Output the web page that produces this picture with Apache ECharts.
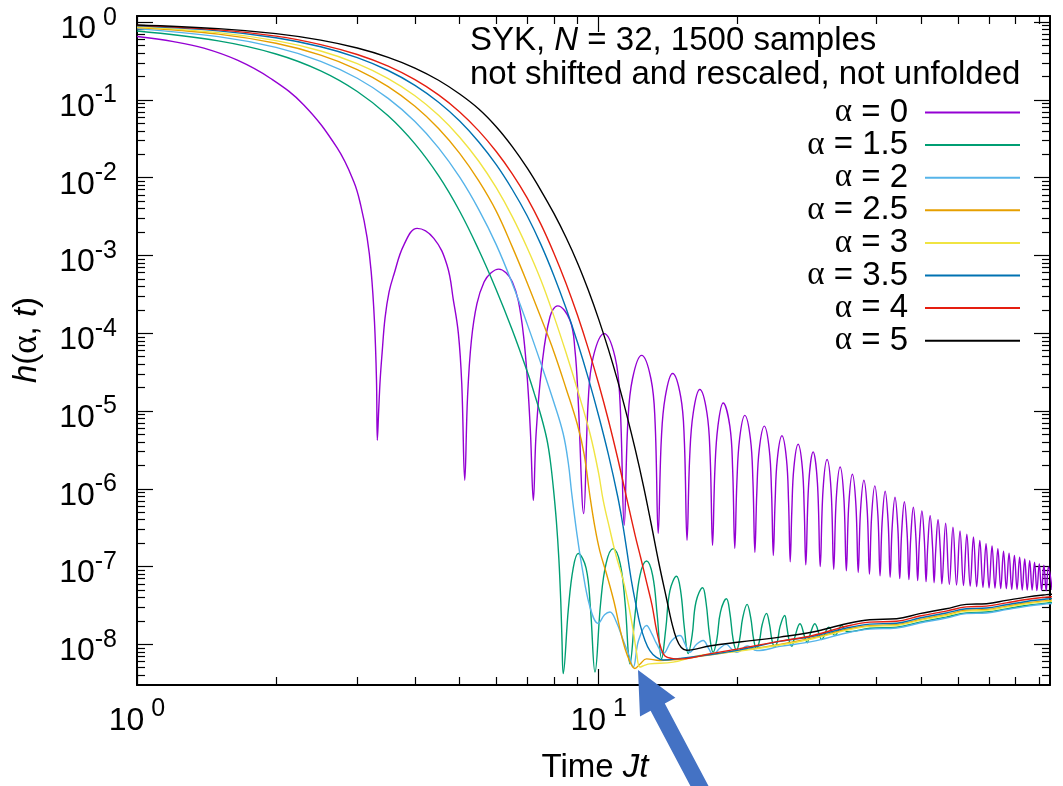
<!DOCTYPE html>
<html>
<head>
<meta charset="utf-8">
<script src="https://cdn.jsdelivr.net/npm/echarts@6/dist/echarts.min.js"></script>
<style>
  html, body { margin: 0; padding: 0; background: #ffffff; }
  #chart { width: 1063px; height: 786px; }
</style>
</head>
<body>
<div id="chart"></div>
<script>
// Axis ranges (log-log plot)
const X_MIN = 1, X_MAX = 95;
const Y_MIN = 3e-9, Y_MAX = 1.2;

// Tick positions
const xMajorTicks = [1, 10];
const yMajorTicks = [1e-8, 1e-7, 1e-6, 1e-5, 1e-4, 1e-3, 1e-2, 1e-1, 1];
const minorMantissas = [2, 3, 4, 5, 6, 7, 8, 9];

// Series names and colours
const alphaNames = ['α = 0', 'α = 1.5', 'α = 2', 'α = 2.5', 'α = 3', 'α = 3.5', 'α = 4', 'α = 5'];
const alphaColors = ['#9400d3', '#009e73', '#56b4e9', '#e69f00', '#f0e442', '#0072b2', '#e51e10', '#000000'];

// h(alpha, t) samples as [Jt, h]
const hAlpha0 = [
  [1, 0.653], [1.2, 0.562], [1.396, 0.463], [1.65, 0.324], [1.944, 0.190], [2.298, 0.0862], [2.714, 0.0241],
  [2.949, 0.00888], [3.051, 0.00447], [3.151, 0.0017], [3.215, 6.3e-4], [3.269, 1.41e-4], [3.302, 2.5e-5],
  [3.316, 4.2e-6], [3.338, 1e-5], [3.363, 2.5e-5], [3.396, 5.6e-5], [3.446, 1.58e-4], [3.516, 3.4e-4],
  [3.599, 5.6e-4], [3.784, 1.36e-3], [4.044, 2.23e-3], [4.395, 1.66e-3], [4.695, 7.5e-4], [4.845, 2.67e-4],
  [4.968, 9.9e-5], [5.052, 2.26e-5], [5.128, 1.29e-6], [5.2, 1.5e-5], [5.3, 8e-5], [5.45, 2.4e-4],
  [5.65, 4.6e-4], [5.85, 6.0e-4], [6.075, 6.68e-4], [6.3, 6.0e-4], [6.5, 4.6e-4], [6.7, 2.6e-4],
  [6.88, 9e-5], [7.02, 2.2e-5], [7.12, 5e-6], [7.22, 7.1e-7], [7.32, 5.1e-6], [7.53, 3.7e-5], [7.846, 1.63e-4],
  [8.15, 2.25e-4], [8.667, 1.47e-4], [8.886, 6.06e-5], [9.03, 1.38e-5], [9.28, 4.8e-7], [9.495, 1.38e-5],
  [9.735, 4.97e-5], [10.28, 9.9e-5], [10.85, 4.97e-5], [11.12, 1.38e-5], [11.36, 3.4e-7],
  [11.57, 7.3e-6], [11.84, 2.6e-5], [12.39, 5.2e-5], [12.98, 2.6e-5], [13.25, 7.3e-6], [13.46, 2.67e-7],
  [13.67, 4.3e-6], [13.94, 1.52e-5], [14.46, 3.04e-5], [15.06, 1.52e-5], [15.33, 4.3e-6], [15.54, 2.17e-7],
  [15.75, 2.6e-6], [16.03, 9.5e-6], [16.56, 1.89e-5], [17.16, 9.5e-6], [17.44, 2.6e-6], [17.65, 1.87e-7],
  [17.86, 1.8e-6], [18.13, 6.4e-6], [18.61, 1.27e-5], [19.24, 6.4e-6], [19.51, 1.8e-6], [19.72, 1.71e-7],
  [19.93, 1.23e-6], [20.2, 4.4e-6], [20.73, 8.8e-6], [21.32, 4.4e-6], [21.59, 1.23e-6], [21.8, 1.52e-7],
  [22.01, 9e-7], [22.28, 3.2e-6], [22.85, 6.4e-6], [23.42, 3.2e-6], [23.69, 9e-7], [23.9, 1.39e-7],
  [24.11, 6.7e-7], [24.38, 2.4e-6], [24.95, 4.8e-6], [25.52, 2.4e-6], [25.79, 6.7e-7], [26.0, 1.15e-7],
  [26.21, 5.2e-7], [26.48, 1.87e-6], [27.05, 3.74e-6], [27.62, 1.87e-6], [27.89, 5.2e-7], [28.1, 1.05e-7],
  [28.52, 1.19e-6], [29.15, 2.98e-6], [29.78, 1.19e-6], [30.2, 1.0e-7],
  [30.62, 9.5e-7], [31.25, 2.38e-6], [31.88, 9.5e-7], [32.3, 9.2e-8],
  [32.72, 7.6e-7], [33.35, 1.91e-6], [33.98, 7.6e-7], [34.4, 8.8e-8],
  [34.82, 6.2e-7], [35.45, 1.54e-6], [36.08, 6.2e-7], [36.5, 8.4e-8],
  [36.92, 5.2e-7], [37.55, 1.29e-6], [38.18, 5.2e-7], [38.6, 8.0e-8],
  [39.02, 4.4e-7], [39.65, 1.09e-6], [40.28, 4.4e-7], [40.7, 7.6e-8],
  [41.12, 3.7e-7], [41.75, 9.3e-7], [42.38, 3.7e-7], [42.8, 7.3e-8],
  [43.22, 3.1e-7], [43.85, 7.8e-7], [44.48, 3.1e-7], [44.9, 7.0e-8],
  [45.32, 2.7e-7], [45.95, 6.8e-7], [46.58, 2.7e-7], [47.0, 6.8e-8],
  [47.42, 2.3e-7], [48.05, 5.8e-7], [48.68, 2.3e-7], [49.1, 6.6e-8],
  [49.52, 2.1e-7], [50.15, 5.2e-7], [50.78, 2.1e-7], [51.2, 6.4e-8],
  [51.62, 1.8e-7], [52.25, 4.5e-7], [52.88, 1.8e-7], [53.3, 6.2e-8],
  [53.72, 1.6e-7], [54.35, 4.0e-7], [54.98, 1.6e-7], [55.4, 6.0e-8],
  [56.45, 3.6e-7], [57.5, 5.9e-8], [58.55, 3.2e-7], [59.6, 5.8e-8], [60.65, 2.86e-7], [61.7, 5.7e-8],
  [62.75, 2.6e-7], [63.8, 5.6e-8], [64.85, 2.4e-7], [65.9, 5.5e-8], [66.95, 2.17e-7], [68.0, 5.4e-8],
  [69.05, 1.97e-7], [70.1, 5.3e-8], [71.15, 1.84e-7], [72.2, 5.3e-8], [73.25, 1.7e-7], [74.3, 5.2e-8],
  [75.35, 1.58e-7], [76.4, 5.2e-8], [77.45, 1.49e-7], [78.5, 5.1e-8], [79.55, 1.39e-7], [80.6, 5.1e-8],
  [81.65, 1.32e-7], [82.7, 5.0e-8], [83.75, 1.25e-7], [84.8, 5.0e-8], [85.85, 1.2e-7], [86.9, 5.0e-8],
  [87.95, 1.14e-7], [89.0, 4.9e-8], [90.05, 1.09e-7], [91.1, 4.9e-8], [92.15, 1.04e-7], [93.2, 4.9e-8],
  [94.25, 9.9e-8], [96, 5e-8]
];

const hAlpha15 = [
  [1, 0.77], [1.5, 0.574], [2, 0.390], [2.5, 0.2366], [3, 0.1285], [3.5, 0.0625], [4, 0.0272], [4.5, 0.0106],
  [5, 3.70e-3], [5.5, 1.175e-3], [6, 3.63e-4], [6.5, 1.10e-4], [7, 3.24e-5], [7.25, 1.70e-5], [7.5, 8.7e-6],
  [7.72, 4.4e-6], [7.85, 2.4e-6], [7.975, 1.05e-6], [8.1, 3.8e-7], [8.2, 1.26e-7], [8.28, 3.5e-8],
  [8.33, 1.1e-8], [8.38, 4.2e-9],
  [8.6, 2.9e-8], [8.81, 9.6e-8], [9.03, 1.47e-7], [9.39, 9.6e-8], [9.6, 2.9e-8], [9.82, 4.4e-9],
  [10.1, 3.4e-8], [10.38, 1.1e-7], [10.75, 1.7e-7], [11.13, 1.1e-7], [11.41, 3.4e-8], [11.69, 5.6e-9],
  [11.99, 2.4e-8], [12.29, 7.7e-8], [12.7, 1.18e-7], [13.09, 7.7e-8], [13.39, 2.4e-8], [13.69, 6.5e-9],
  [13.98, 1.6e-8], [14.27, 4.9e-8], [14.75, 7.5e-8], [15.05, 4.9e-8], [15.34, 1.6e-8], [15.63, 7.6e-9],
  [15.94, 1.3e-8], [16.25, 3.5e-8], [16.8, 5.35e-8], [17.08, 3.5e-8], [17.39, 1.3e-8], [17.7, 7.9e-9],
  [18.03, 1.15e-8], [18.36, 2.6e-8], [18.92, 3.86e-8], [19.23, 2.6e-8], [19.56, 1.15e-8], [19.89, 8.4e-9],
  [20.2, 1.15e-8], [20.52, 2.2e-8], [20.97, 3.26e-8], [21.35, 2.2e-8], [21.67, 1.15e-8], [21.98, 8.8e-9],
  [22.3, 1.1e-8], [22.61, 1.8e-8], [23.1, 2.5e-8], [23.45, 1.8e-8], [23.76, 1.1e-8], [24.08, 9.2e-9],
  [24.4, 1.1e-8], [24.72, 1.7e-8], [25.3, 2.35e-8], [25.56, 1.7e-8], [25.88, 1.1e-8], [26.2, 9.5e-9],
  [26.5, 1.15e-8], [27.3, 1.84e-8], [28.0, 1.2e-8], [28.3, 1.05e-8], [28.6, 1.25e-8], [29.4, 1.84e-8],
  [30.1, 1.3e-8], [30.4, 1.15e-8], [31.5, 1.66e-8], [32.5, 1.3e-8], [33.6, 1.75e-8], [34.6, 1.45e-8],
  [38.65, 1.61e-8], [44.2, 1.66e-8], [49.6, 1.93e-8], [56.6, 2.24e-8], [62.6, 2.54e-8], [69.2, 2.6e-8],
  [76.4, 2.86e-8], [84.4, 3.16e-8], [93.3, 3.39e-8], [96, 3.45e-8]
];

const hAlpha2 = [
  [1, 0.82], [1.5, 0.652], [2, 0.4736], [2.5, 0.314], [3, 0.19], [3.5, 0.1047], [4, 0.0527], [4.5, 0.0242],
  [5, 0.01014], [5.5, 3.89e-3], [6, 1.38e-3], [6.5, 4.37e-4], [7, 1.32e-4], [7.5, 4.07e-5], [8, 1.29e-5],
  [8.38, 5.1e-6], [8.6, 2.1e-6], [8.74, 8.9e-7], [8.96, 2.8e-7], [9.2, 1e-7], [9.58, 3.0e-8], [9.98, 1.86e-8],
  [10.3, 2.4e-8], [10.58, 2.6e-8], [10.9, 2e-8], [11.31, 1.12e-8], [11.6, 7.6e-9], [11.88, 5.1e-9],
  [12.2, 1.12e-8], [12.7, 1.75e-8], [13.05, 1.35e-8], [13.35, 1.02e-8], [13.8, 7.6e-9], [14.4, 1.12e-8],
  [15.0, 1.3e-8], [15.4, 1e-8], [15.76, 7.9e-9], [16.3, 1e-8], [16.84, 1.12e-8], [17.3, 8.9e-9],
  [17.7, 7.4e-9], [18.3, 8.9e-9], [18.9, 1e-8], [19.4, 8.7e-9], [19.9, 7.9e-9], [21.0, 9.5e-9],
  [22.0, 8.3e-9], [24.7, 9.4e-9], [29.1, 1.09e-8], [34.4, 1.4e-8], [38.65, 1.57e-8], [44.2, 1.62e-8],
  [49.6, 1.88e-8], [56.6, 2.18e-8], [62.6, 2.48e-8], [69.2, 2.53e-8], [76.4, 2.79e-8], [84.4, 3.08e-8],
  [93.3, 3.31e-8], [96, 3.35e-8]
];

const hAlpha25 = [
  [1, 0.852], [1.5, 0.701], [2, 0.535], [2.5, 0.377], [3, 0.246], [3.5, 0.1486], [4, 0.083], [4.5, 0.043],
  [5, 0.02056], [5.5, 9.1e-3], [6, 3.72e-3], [6.5, 1.29e-3], [7, 4.47e-4], [7.5, 1.58e-4], [8, 5.75e-5],
  [8.5, 1.95e-5], [9, 6.6e-6], [9.3, 2.8e-6], [9.58, 7.9e-7], [9.82, 3.16e-7], [10.06, 1.58e-7],
  [10.41, 7.9e-8], [10.8, 3.5e-8], [11.12, 1.58e-8], [11.4, 8.9e-9], [11.69, 6.0e-9], [11.98, 4.9e-9],
  [12.3, 5.6e-9], [12.7, 6.5e-9], [13.57, 6.2e-9], [15, 6.4e-9], [16.57, 7.0e-9], [20.2, 8.3e-9],
  [24.7, 1.0e-8], [29.1, 1.21e-8], [34.4, 1.55e-8], [38.65, 1.74e-8], [44.2, 1.79e-8], [49.6, 2.08e-8],
  [56.6, 2.41e-8], [62.6, 2.74e-8], [69.2, 2.8e-8], [76.4, 3.08e-8], [84.4, 3.4e-8], [93.3, 3.65e-8],
  [96, 3.7e-8]
];

const hAlpha3 = [
  [1, 0.87], [1.5, 0.734], [2, 0.578], [2.5, 0.4256], [3, 0.293], [3.5, 0.188], [4, 0.113], [4.5, 0.0634],
  [5, 0.0332], [5.5, 0.01626], [6, 7.43e-3], [6.5, 3.16e-3], [7, 1.26e-3], [7.5, 4.8e-4], [8, 1.66e-4],
  [8.5, 5.6e-5], [9, 1.86e-5], [9.58, 5.1e-6], [10, 1.58e-6], [10.23, 7.1e-7], [10.58, 2.95e-7],
  [10.9, 1.41e-7], [11.31, 6.6e-8], [11.6, 3.3e-8], [11.88, 1.51e-8], [12.08, 7.9e-9], [12.29, 5.1e-9],
  [12.6, 5.4e-9], [12.91, 5.6e-9], [14.5, 5.9e-9], [16.57, 7.2e-9], [20.2, 8.2e-9], [24.7, 9.8e-9],
  [29.1, 1.18e-8], [34.4, 1.51e-8], [38.65, 1.7e-8], [44.2, 1.75e-8], [49.6, 2.03e-8], [56.6, 2.35e-8],
  [62.6, 2.67e-8], [69.2, 2.73e-8], [76.4, 3.01e-8], [84.4, 3.32e-8], [93.3, 3.57e-8], [96, 3.6e-8]
];

const hAlpha35 = [
  [1, 0.895], [1.5, 0.773], [2, 0.63], [2.5, 0.483], [3, 0.35], [3.5, 0.239], [4, 0.154], [4.5, 0.0933],
  [5, 0.0535], [5.5, 0.0288], [6, 0.01469], [6.5, 7.05e-3], [7, 3.24e-3], [7.5, 1.38e-3], [8, 5.5e-4],
  [8.5, 2.09e-4], [9, 7.6e-5], [9.5, 2.63e-5], [10, 8.7e-6], [10.5, 2.75e-6], [11, 7.9e-7],
  [11.25, 3.8e-7], [11.5, 1.66e-7], [11.79, 6.3e-8], [12.05, 3.2e-8], [12.29, 1.82e-8],
  [12.6, 1.12e-8], [12.91, 8.3e-9], [13.3, 6.9e-9], [13.8, 6.3e-9], [15, 6.6e-9], [17.5, 7.4e-9],
  [20.2, 8.5e-9], [24.7, 1.09e-8], [29.1, 1.27e-8], [34.4, 1.62e-8], [38.65, 1.82e-8], [44.2, 1.87e-8],
  [49.6, 2.18e-8], [56.6, 2.53e-8], [62.6, 2.87e-8], [69.2, 2.93e-8], [76.4, 3.23e-8], [84.4, 3.56e-8],
  [93.3, 3.83e-8], [96, 3.87e-8]
];

const hAlpha4 = [
  [1, 0.91], [1.5, 0.796], [2, 0.661], [2.5, 0.515], [3, 0.384], [3.5, 0.2716], [4, 0.182], [4.5, 0.116],
  [5, 0.07], [5.5, 0.04], [6, 0.0217], [6.5, 0.0112], [7, 5.5e-3], [7.5, 2.51e-3], [8, 1.07e-3],
  [8.5, 4.37e-4], [9, 1.7e-4], [9.5, 6.3e-5], [10, 2.24e-5], [10.5, 7.6e-6], [11, 2.45e-6],
  [11.5, 7.6e-7], [12, 2.5e-7], [12.35, 1.26e-7], [12.7, 6.3e-8], [13.05, 3.2e-8],
  [13.35, 1.51e-8], [13.65, 8.9e-9], [13.92, 7.1e-9], [14.4, 6.6e-9], [15, 6.5e-9], [17.5, 7.6e-9],
  [20.2, 8.8e-9], [24.7, 1.1e-8], [29.1, 1.3e-8], [34.4, 1.71e-8], [38.65, 1.93e-8], [44.2, 1.98e-8],
  [49.6, 2.31e-8], [56.6, 2.67e-8], [62.6, 3.03e-8], [69.2, 3.1e-8], [76.4, 3.41e-8], [84.4, 3.77e-8],
  [93.3, 4.05e-8], [96, 4.1e-8]
];

const hAlpha5 = [
  [1, 0.92], [1.5, 0.826], [2, 0.712], [2.5, 0.588], [3, 0.465], [3.5, 0.353], [4, 0.257], [4.5, 0.179],
  [5, 0.119], [5.5, 0.0764], [6, 0.0452], [6.5, 0.0251], [7, 0.01334], [7.5, 6.84e-3], [8, 3.47e-3],
  [8.5, 1.7e-3], [9, 8.0e-4], [9.5, 3.56e-4], [10, 1.52e-4], [10.5, 6.2e-5], [11, 2.42e-5], [11.5, 9.0e-6],
  [12, 3.23e-6], [12.5, 1.1e-6], [13, 3.5e-7], [13.5, 1.12e-7], [14.04, 3.8e-8], [14.4, 1.9e-8],
  [14.75, 1.17e-8], [15.1, 9.1e-9], [15.5, 8.4e-9], [17.5, 9.6e-9], [20.2, 1.07e-8], [24.7, 1.24e-8],
  [29.1, 1.44e-8], [34.4, 1.84e-8], [38.65, 2.07e-8], [44.2, 2.13e-8], [49.6, 2.48e-8], [56.6, 2.87e-8],
  [62.6, 3.26e-8], [69.2, 3.33e-8], [76.4, 3.67e-8], [84.4, 4.05e-8], [93.3, 4.35e-8], [96, 4.4e-8]
];

const seriesData = [hAlpha0, hAlpha15, hAlpha2, hAlpha25, hAlpha3, hAlpha35, hAlpha4, hAlpha5];

// Minor ticks at 2..9 times each power of ten inside the range
function minorTicks(lo, hi, pMin, pMax) {
  const out = [];
  for (let p = pMin; p <= pMax; p++) {
    for (const m of minorMantissas) {
      const v = m * Math.pow(10, p);
      if (v > lo * 1.0001 && v < hi * 0.9999) out.push(v);
    }
  }
  return out;
}
const xMinorTicks = minorTicks(X_MIN, X_MAX, 0, 1);
const yMinorTicks = minorTicks(Y_MIN, Y_MAX, -9, -1);

const SANS = 'Liberation Sans';
const SERIF = 'Liberation Serif';

function powLabel(v) {
  const e = Math.round(Math.log10(v));
  return '{b|10}{e|' + (e < 0 ? String(e) : ' ' + e) + '}';
}
const powRich = {
  b: { fontFamily: SANS, fontSize: 32, color: '#000', lineHeight: 40, padding: [8, 0, 0, 0], verticalAlign: 'bottom' },
  e: { fontFamily: SANS, fontSize: 25, color: '#000', lineHeight: 25, verticalAlign: 'top' }
};

const tickLine = { color: '#000', width: 1.2 };
const frameLine = { color: '#000', width: 2 };

function logAxis(pos, min, max, major, withLine, ticks, tickLen, labels) {
  return {
    type: 'log',
    logBase: 10,
    position: pos,
    min: min,
    max: max,
    splitLine: { show: false },
    minorTick: { show: false },
    axisLine: { show: withLine, onZero: false, lineStyle: frameLine },
    axisTick: { show: true, inside: true, length: tickLen, customValues: ticks, lineStyle: tickLine },
    axisLabel: labels
      ? { show: true, customValues: major, formatter: powLabel, rich: powRich,
          margin: (pos === 'bottom' ? 12 : 20),
          padding: (pos === 'bottom' ? 0 : [6, 0, 0, 0]) }
      : { show: false }
  };
}

const chart = echarts.init(document.getElementById('chart'), null, { renderer: 'canvas' });

const option = {
  animation: false,
  backgroundColor: '#ffffff',
  grid: { left: 137, right: 13, top: 16, bottom: 101, containLabel: false, outerBoundsMode: 'none' },
  xAxis: [
    logAxis('bottom', X_MIN, X_MAX, xMajorTicks, true, xMajorTicks, 16, true),
    logAxis('bottom', X_MIN, X_MAX, xMajorTicks, false, xMinorTicks, 8, false),
    logAxis('top', X_MIN, X_MAX, xMajorTicks, true, xMajorTicks, 16, false),
    logAxis('top', X_MIN, X_MAX, xMajorTicks, false, xMinorTicks, 8, false)
  ],
  yAxis: [
    logAxis('left', Y_MIN, Y_MAX, yMajorTicks, true, yMajorTicks, 16, true),
    logAxis('left', Y_MIN, Y_MAX, yMajorTicks, false, yMinorTicks, 8, false),
    logAxis('right', Y_MIN, Y_MAX, yMajorTicks, true, yMajorTicks, 16, false),
    logAxis('right', Y_MIN, Y_MAX, yMajorTicks, false, yMinorTicks, 8, false)
  ],
  legend: {
    orient: 'vertical',
    align: 'right',
    right: 38,
    top: 91,
    icon: 'rect',
    itemWidth: 95,
    itemHeight: 2,
    itemGap: -0.4,
    selectedMode: false,
    data: alphaNames,
    formatter: function (name) {
      return '{a|α}{t|' + name.slice(1) + '}';
    },
    textStyle: {
      color: '#000',
      padding: [0, 12, 0, 0],
      rich: {
        a: { fontFamily: SERIF, fontSize: 33, color: '#000', lineHeight: 33 },
        t: { fontFamily: SANS, fontSize: 33, color: '#000', lineHeight: 33 }
      }
    }
  },
  series: seriesData.map(function (d, i) {
    return {
      type: 'line',
      name: alphaNames[i],
      data: d,
      xAxisIndex: 0,
      yAxisIndex: 0,
      symbol: 'none',
      showSymbol: false,
      smooth: 0.4,
      z: 2 + i,
      lineStyle: { color: alphaColors[i], width: 1.4 },
      itemStyle: { color: alphaColors[i] }
    };
  }),
  graphic: [
    {
      type: 'text', x: 470, y: 41, z: 50,
      style: {
        text: '{r|SYK, }{i|N}{r| = 32, 1500 samples}',
        verticalAlign: 'middle', align: 'left',
        rich: {
          r: { fontFamily: SANS, fontSize: 33, fill: '#000' },
          i: { fontFamily: SANS, fontSize: 33, fontStyle: 'italic', fill: '#000' }
        }
      }
    },
    {
      type: 'text', x: 470, y: 74.5, z: 50,
      style: {
        text: 'not shifted and rescaled, not unfolded',
        fontFamily: SANS, fontSize: 33, fill: '#000',
        verticalAlign: 'middle', align: 'left'
      }
    },
    {
      type: 'text', x: 595, y: 768, z: 50,
      style: {
        text: '{r|Time }{i|Jt}',
        verticalAlign: 'middle', align: 'center',
        rich: {
          r: { fontFamily: SANS, fontSize: 33, fill: '#000' },
          i: { fontFamily: SANS, fontSize: 33, fontStyle: 'italic', fill: '#000' }
        }
      }
    },
    {
      type: 'text', x: 27, y: 340, rotation: Math.PI / 2, z: 50,
      style: {
        text: '{i|h}{r|(}{g|α}{r|, }{i|t}{r|)}',
        verticalAlign: 'middle', align: 'center',
        rich: {
          r: { fontFamily: SANS, fontSize: 33, fill: '#000' },
          i: { fontFamily: SANS, fontSize: 33, fontStyle: 'italic', fill: '#000' },
          g: { fontFamily: SERIF, fontSize: 35, fill: '#000' }
        }
      }
    },
    {
      // callout arrow pointing at the common minimum
      type: 'polygon', z: 100,
      shape: {
        points: [[638, 670], [675.4, 697.7], [664.8, 703.4], [711.6, 791.8],
                 [697.4, 799.2], [650.6, 710.8], [640, 716.5]]
      },
      style: { fill: '#4472c4' }
    }
  ]
};

chart.setOption(option);
</script>
</body>
</html>
